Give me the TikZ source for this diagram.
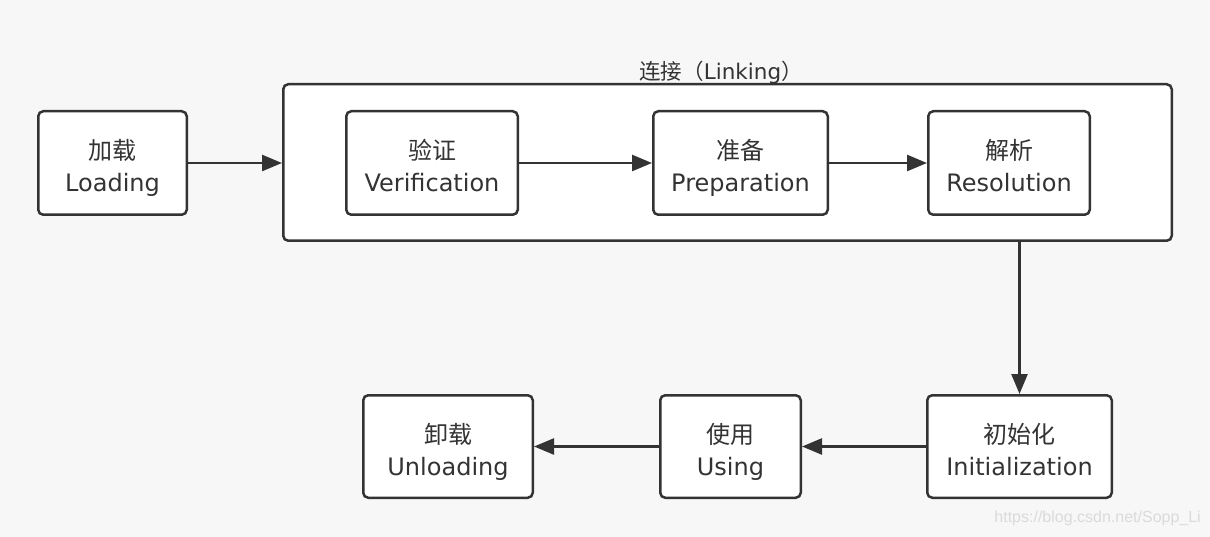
\documentclass[tikz,border=0pt]{standalone}
\usepackage{fontspec}
\setmainfont{DejaVu Sans}
\newfontfamily\cjk{Noto Sans CJK SC}
\newfontfamily\wmfont{Liberation Sans}
\usetikzlibrary{arrows.meta}
\definecolor{bg}{HTML}{F7F7F7}
\definecolor{ink}{HTML}{333333}
\definecolor{wm}{HTML}{DADADA}
\tikzset{
  stagebox/.style={draw=ink, fill=white, line width=2.5pt, rounded corners=5pt,
    inner sep=0pt, align=center, text=ink, font=\fontsize{24}{32}\selectfont,
    text height=58pt, text depth=0pt},
  conn/.style={draw=ink, line width=2.5pt, -{Triangle[length=20pt,width=16pt]}},
}
\begin{document}
\begin{tikzpicture}[x=1pt,y=-1pt]
\fill[bg] (0,0) rectangle (1210,537);
\useasboundingbox (0,0) rectangle (1210,537);
% linking container
\node[draw=ink, fill=white, line width=2.5pt, rounded corners=5pt, inner sep=0pt, minimum width=888.5pt, minimum height=156.5pt] (link) at (727.5,162.5) {};
\node[text=ink, font=\fontsize{21.5}{26}\selectfont, inner sep=0pt, anchor=base] (linktitle) at (721,80) {{\cjk 连接（}Linking{\cjk ）}};
% top row
\node[stagebox, minimum width=148.5pt, minimum height=103.5pt] (load) at (112.5,163) {{\cjk 加载}\\Loading};
\node[stagebox, minimum width=171.5pt, minimum height=103.5pt] (verify) at (432,163) {{\cjk 验证}\\Verification};
\node[stagebox, minimum width=174.5pt, minimum height=103.5pt] (prep) at (740.5,163) {{\cjk 准备}\\Preparation};
\node[stagebox, minimum width=161.5pt, minimum height=103.5pt] (resol) at (1009,163) {{\cjk 解析}\\Resolution};
% bottom row
\node[stagebox, minimum width=184.5pt, minimum height=102.5pt] (init) at (1019.5,446.5) {{\cjk 初始化}\\Initialization};
\node[stagebox, minimum width=140.5pt, minimum height=102.5pt] (use) at (730.5,446.5) {{\cjk 使用}\\Using};
\node[stagebox, minimum width=169.5pt, minimum height=102.5pt] (unload) at (448,446.5) {{\cjk 卸载}\\Unloading};
% connectors
\draw[conn] (load.east) -- (link.west |- load.east);
\draw[conn] (verify) -- (prep);
\draw[conn] (prep) -- (resol);
\draw[conn] (init.north |- link.south) -- (init.north);
\draw[conn] (init) -- (use);
\draw[conn] (use) -- (unload);
% watermark
\node[anchor=east, text=wm, font=\wmfont\fontsize{16}{20}\selectfont, inner sep=0pt] (wmark) at (1201,518) {https://blog.csdn.net/Sopp\_Li};
\end{tikzpicture}
\end{document}
